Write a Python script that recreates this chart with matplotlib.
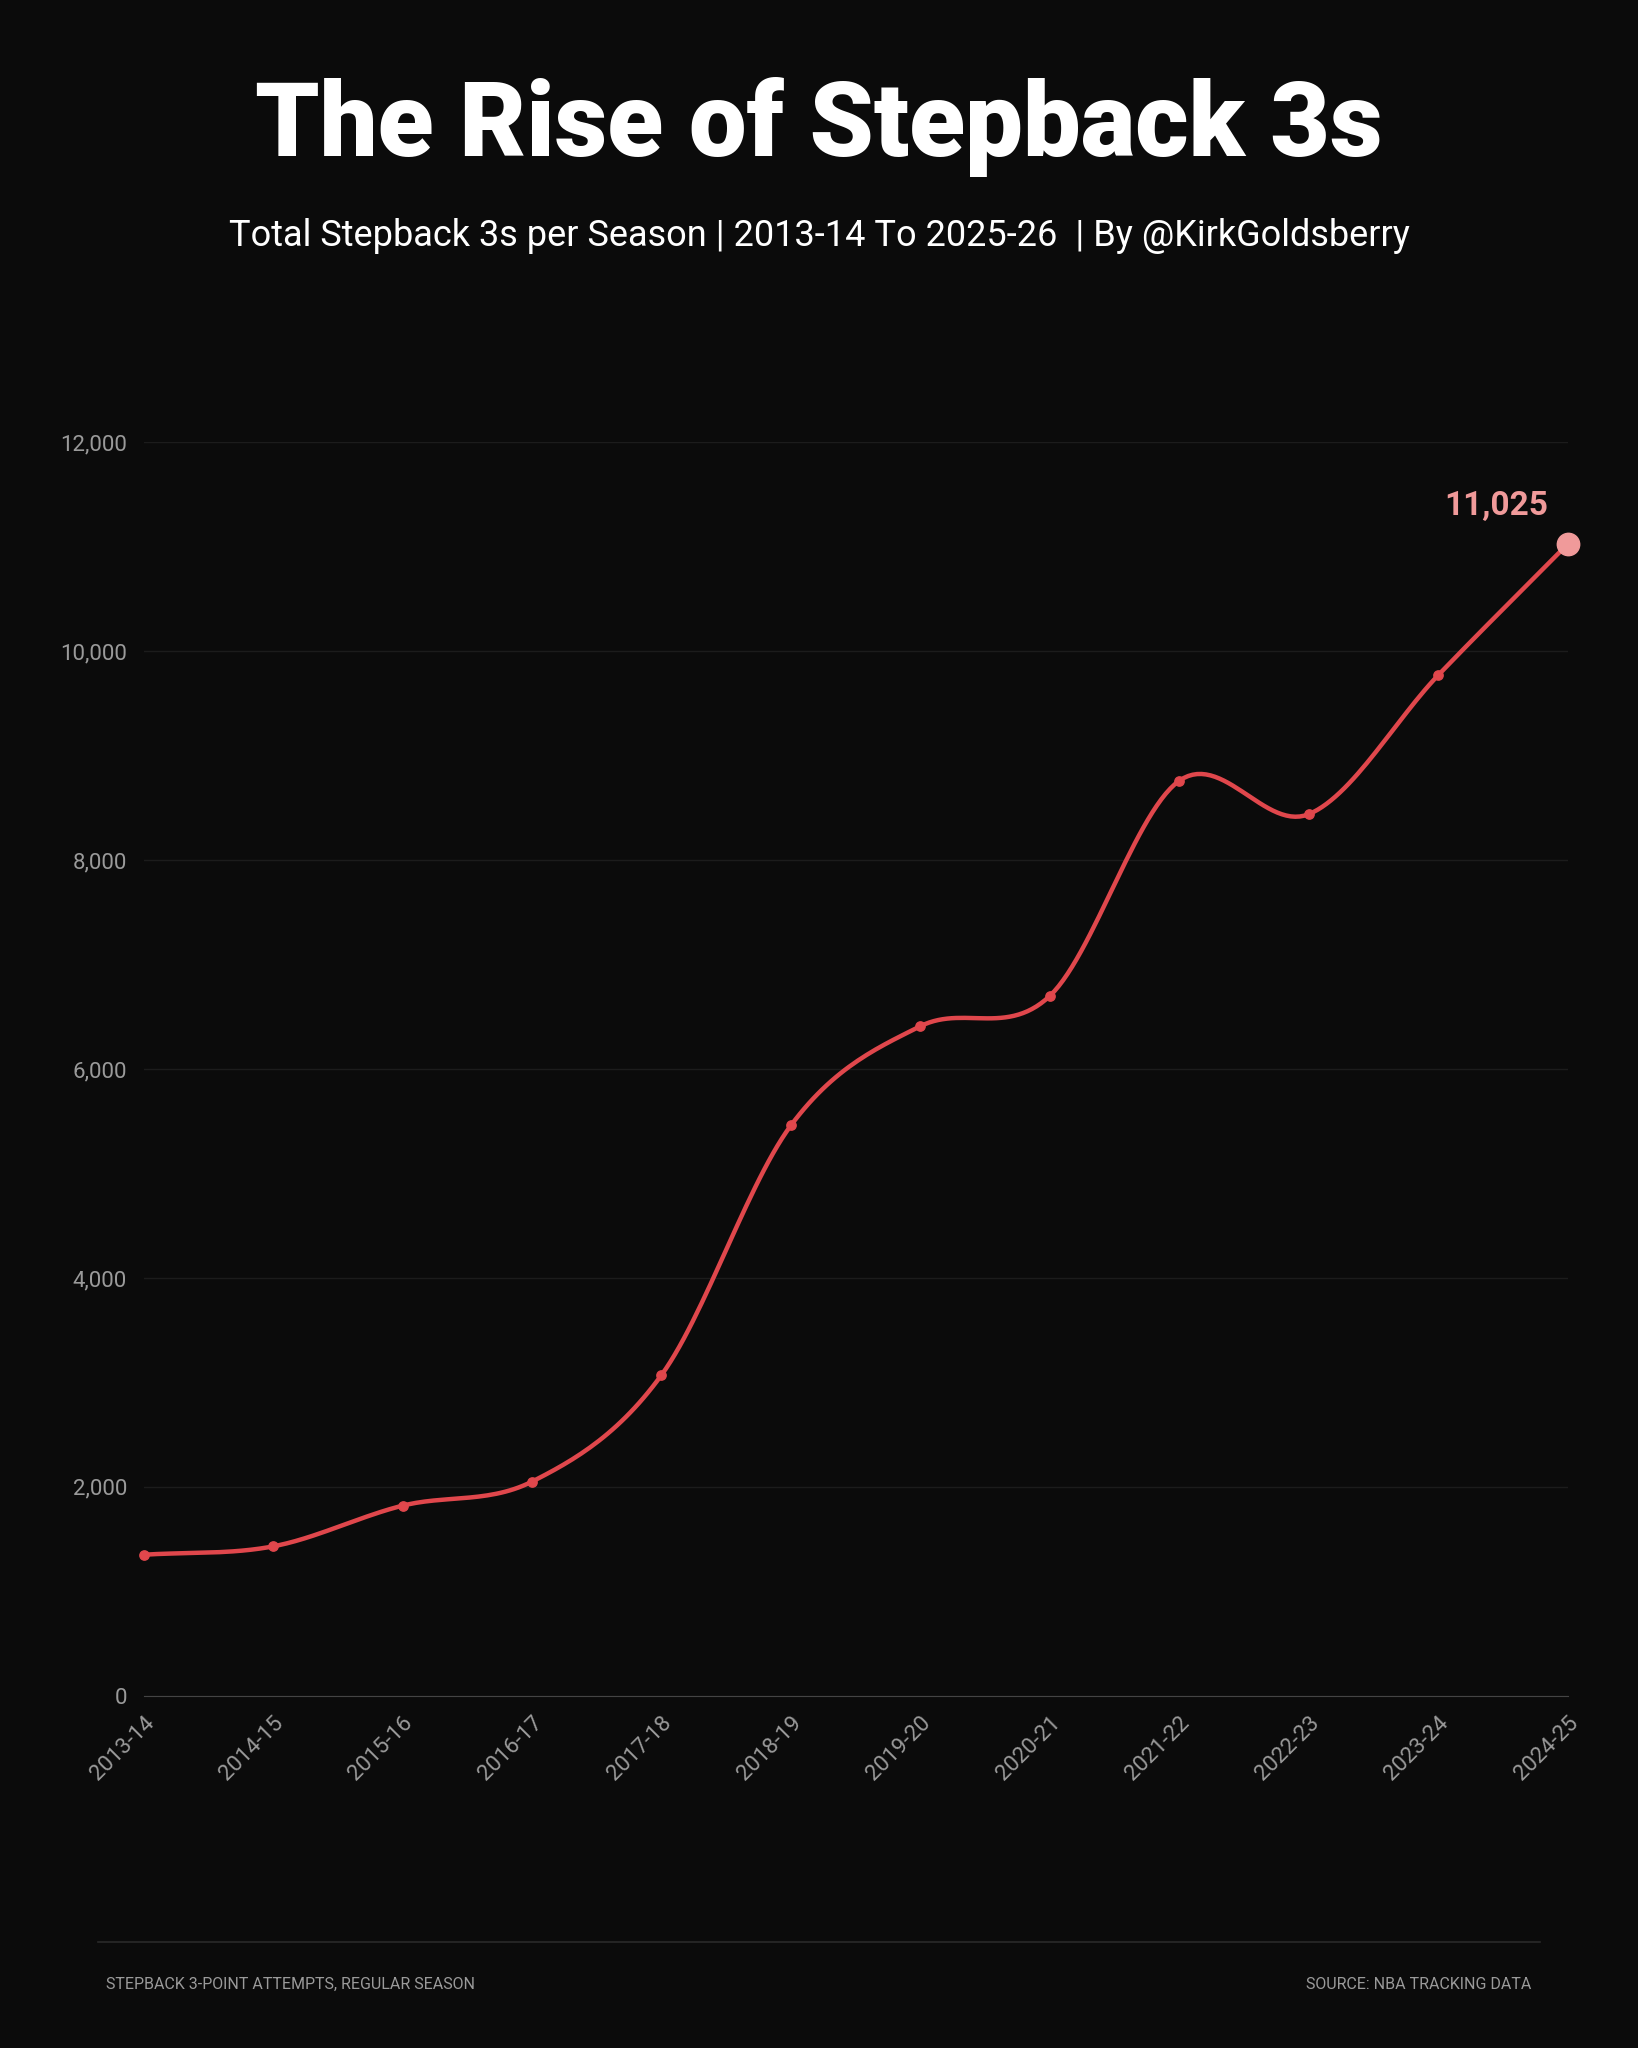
import numpy as np
import matplotlib.pyplot as plt
from matplotlib.ticker import FuncFormatter

seasons = ["2013-14", "2014-15", "2015-16", "2016-17", "2017-18", "2018-19",
           "2019-20", "2020-21", "2021-22", "2022-23", "2023-24", "2024-25"]
attempts = [1350, 1430, 1820, 2050, 3070, 5460, 6410, 6700, 8760, 8440, 9770, 11025]

bg = "#0b0b0b"
red = "#e0474c"
pink = "#f09a9a"

def catmull_rom(x, y, n=30):
    # smooth path through the points (drawing only)
    x = np.asarray(x, float); y = np.asarray(y, float)
    px = np.concatenate([[2*x[0]-x[1]], x, [2*x[-1]-x[-2]]])
    py = np.concatenate([[2*y[0]-y[1]], y, [2*y[-1]-y[-2]]])
    xs, ys = [], []
    for i in range(1, len(px) - 2):
        t = np.linspace(0, 1, n)
        for arr, out in ((px, xs), (py, ys)):
            p0, p1, p2, p3 = arr[i-1], arr[i], arr[i+1], arr[i+2]
            out.extend(0.5*((2*p1) + (-p0+p2)*t + (2*p0-5*p1+4*p2-p3)*t**2 + (-p0+3*p1-3*p2+p3)*t**3))
    return np.array(xs), np.array(ys)

plt.rcParams['font.family'] = ['Roboto', 'DejaVu Sans']
fig = plt.figure(figsize=(16.38, 20.48), dpi=100, facecolor=bg)
ax = fig.add_axes([0.0877, 0.172, 0.957 - 0.0877, 0.784 - 0.172], facecolor=bg)

xi = np.arange(len(seasons))
sx, sy = catmull_rom(xi, attempts)
ax.plot(sx, sy, color=red, lw=3.2, solid_capstyle='round', zorder=3, clip_on=False)
ax.scatter(xi[:-1], attempts[:-1], s=45, color=red, zorder=4, clip_on=False)
ax.scatter(xi[-1], attempts[-1], s=260, color=pink, zorder=5, clip_on=False)
ax.annotate(f"{attempts[-1]:,}", (xi[-1], attempts[-1]), xytext=(-14, 16),
            textcoords="offset points", ha="right", va="bottom",
            color=pink, fontsize=24, fontweight="bold")

ax.set_xlim(0, len(seasons) - 1)
ax.set_ylim(0, 12000)
ax.set_yticks(range(0, 12001, 2000))
ax.yaxis.set_major_formatter(FuncFormatter(lambda v, p: f"{int(v):,}"))
ax.set_xticks(xi)
ax.set_xticklabels(seasons, rotation=45, ha="right", rotation_mode="anchor")
ax.tick_params(colors="#9a9a9a", labelsize=16, length=0, pad=12)
ax.grid(axis="y", color="#1c1c1c", lw=1)
for s in ["top", "right", "left"]:
    ax.spines[s].set_visible(False)
ax.spines["bottom"].set_color("#444444")

fig.text(0.5, 0.938, "The Rise of Stepback 3s", ha="center", va="center",
         color="white", fontsize=74, fontweight="black")
fig.text(0.5, 0.885, "Total Stepback 3s per Season | 2013-14 To 2025-26  | By @KirkGoldsberry",
         ha="center", va="center", color="white", fontsize=26)

fig.add_artist(plt.Line2D([0.06, 0.94], [0.052, 0.052], color="#2a2a2a", lw=1.2))
fig.text(0.065, 0.031, "STEPBACK 3-POINT ATTEMPTS, REGULAR SEASON", ha="left", va="center",
         color="#9a9a9a", fontsize=11.5)
fig.text(0.935, 0.031, "SOURCE: NBA TRACKING DATA", ha="right", va="center",
         color="#9a9a9a", fontsize=11.5)

fig.savefig("out.png", facecolor=bg)
